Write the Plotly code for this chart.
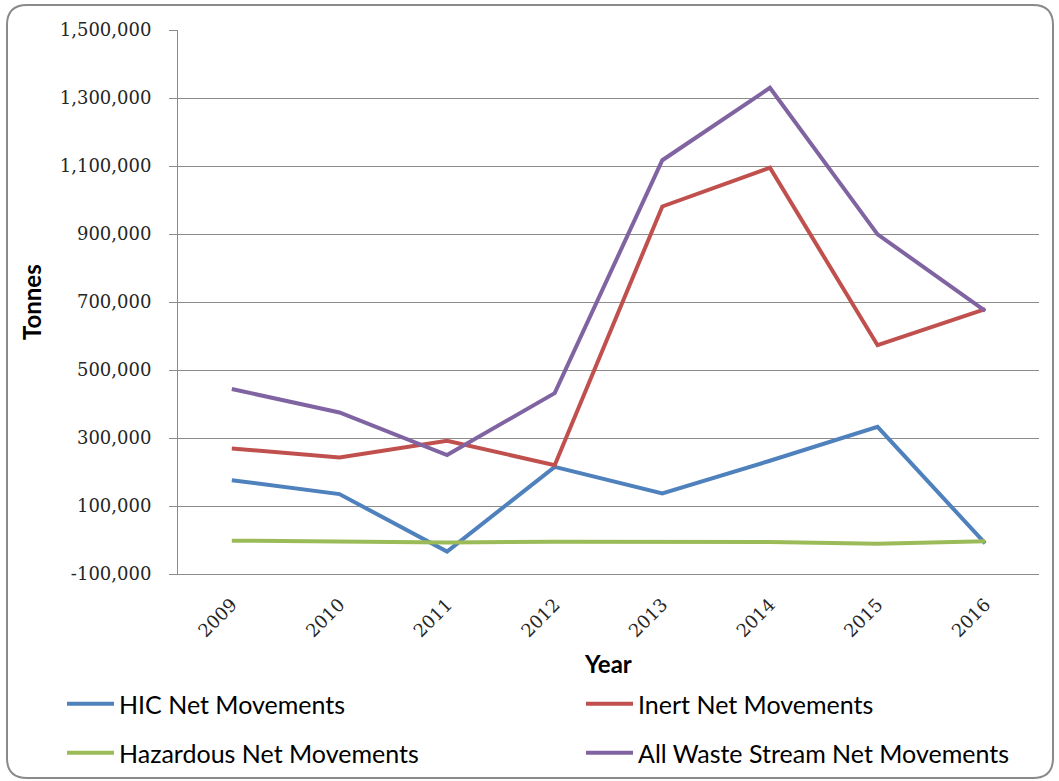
import plotly.graph_objects as go

# Net movements by waste stream (tonnes), 2009-2016
years = ["2009", "2010", "2011", "2012", "2013", "2014", "2015", "2016"]
hic_net = [176000, 135000, -34000, 215000, 137000, 233000, 333000, -10000]
inert_net = [269000, 243000, 292000, 220000, 981000, 1095000, 573000, 679000]
hazardous_net = [-2000, -5000, -7000, -5000, -6000, -6000, -11000, -4000]
all_waste_net = [444000, 375000, 250000, 432000, 1117000, 1330000, 899000, 674000]

series_names = [
    "HIC Net Movements",
    "Inert Net Movements",
    "Hazardous Net Movements",
    "All Waste Stream Net Movements",
]

y_tick_values = [-100000, 100000, 300000, 500000, 700000, 900000, 1100000, 1300000, 1500000]
y_tick_labels = ["-100,000", "100,000", "300,000", "500,000", "700,000",
                 "900,000", "1,100,000", "1,300,000", "1,500,000"]
y_min, y_max = -100000, 1500000

colors = ["#4F81BD", "#C0504D", "#9BBB59", "#8064A2"]
legend_refs = ["legend", "legend2", "legend3", "legend4"]
# legend entry anchor points in canvas pixels (left of swatch, row centre)
legend_slots = [(62, 704), (581, 704), (62, 753), (581, 753)]

W, H = 1059, 781
ML, MR, MT, MB = 178, 20, 30, 207
PW, PH = W - ML - MR, H - MT - MB
GRID = "#8c8c8c"
TICK_FONT = dict(family="DejaVu Serif", size=18, color="#262626")
TITLE_FONT = dict(family="Lato", size=24, color="#000000")


def px(x):
    return (x - ML) / PW


def py(y):
    return (H - MB - y) / PH


x_index = list(range(len(years)))

fig = go.Figure()
for name, vals, col, leg in zip(series_names,
                                [hic_net, inert_net, hazardous_net, all_waste_net],
                                colors, legend_refs):
    fig.add_trace(go.Scatter(
        x=x_index, y=vals, name=name, mode="lines",
        line=dict(color=col, width=4),
        legend=leg,
    ))

# rounded frame around the whole chart area
x0, x1, y0, y1, r = 7, 1053, 5, 778, 20
pts = [
    ("M", [(x0 + r, y0)]), ("L", [(x1 - r, y0)]), ("Q", [(x1, y0), (x1, y0 + r)]),
    ("L", [(x1, y1 - r)]), ("Q", [(x1, y1), (x1 - r, y1)]),
    ("L", [(x0 + r, y1)]), ("Q", [(x0, y1), (x0, y1 - r)]),
    ("L", [(x0, y0 + r)]), ("Q", [(x0, y0), (x0 + r, y0)]),
]
path = " ".join(cmd + " " + " ".join(f"{px(a):.5f},{py(b):.5f}" for a, b in coords)
                for cmd, coords in pts) + " Z"

legend_common = dict(
    orientation="h", xanchor="left", yanchor="middle",
    xref="container", yref="container",
    font=dict(family="Lato", size=25, color="#000000"),
    bgcolor="rgba(0,0,0,0)", itemwidth=47,
)
legend_layout = {
    key: dict(x=sx / W, y=1 - sy / H, **legend_common)
    for key, (sx, sy) in zip(legend_refs, legend_slots)
}

fig.update_layout(
    width=W, height=H,
    margin=dict(l=ML, r=MR, t=MT, b=MB, autoexpand=False),
    paper_bgcolor="white", plot_bgcolor="white",
    showlegend=True,
    **legend_layout,
    xaxis=dict(
        range=[-0.5, len(years) - 0.5],
        tickmode="array", tickvals=x_index, ticktext=years,
        tickangle=-45, tickfont=TICK_FONT,
        showgrid=False, zeroline=False,
        showline=True, linecolor=GRID, linewidth=1, ticks="",
        ticklabelstandoff=12,
    ),
    xaxis2=dict(
        overlaying="x", anchor="free",
        position=(0 - y_min) / (y_max - y_min),
        range=[-0.5, len(years) - 0.5],
        tickmode="array", tickvals=[i - 0.5 for i in range(len(years) + 1)],
        showticklabels=False, ticks="outside", ticklen=5, tickcolor=GRID,
        showgrid=False, zeroline=False,
        showline=True, linecolor=GRID, linewidth=1,
    ),
    yaxis=dict(
        range=[y_min, y_max],
        tickmode="array", tickvals=y_tick_values, ticktext=y_tick_labels,
        tickfont=TICK_FONT,
        showgrid=True, gridcolor=GRID, gridwidth=1,
        zeroline=False,
        showline=True, linecolor=GRID, linewidth=1,
        ticks="outside", ticklen=8, tickcolor=GRID,
        ticklabelstandoff=14,
    ),
    shapes=[dict(type="path", xref="paper", yref="paper", path=path,
                 line=dict(color="#8a8a8a", width=2), layer="below")],
    annotations=[
        dict(text="<b>Tonnes</b>", xref="paper", yref="paper",
             x=px(31), y=py(302), textangle=-90, showarrow=False,
             font=TITLE_FONT, xanchor="center", yanchor="middle"),
        dict(text="<b>Year</b>", xref="paper", yref="paper",
             x=px(608), y=py(663), showarrow=False,
             font=TITLE_FONT, xanchor="center", yanchor="middle"),
    ],
)

fig.write_html("out.html")
